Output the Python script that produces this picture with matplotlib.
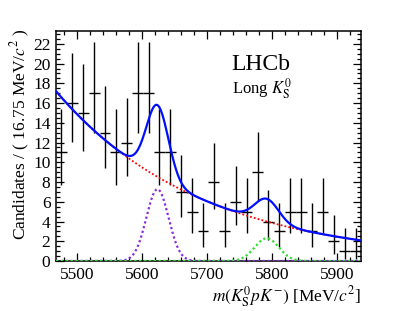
import numpy as np
import matplotlib
matplotlib.use("Agg")
import matplotlib.pyplot as plt
from math import factorial

# Binning and data
x_min = 5468.0
bin_width = 16.75
n_bins = 28
counts = [11, 16, 15, 17, 13, 11, 12, 17, 17, 11, 11, 7, 5, 3,
          8, 3, 6, 5, 9, 4, 3, 5, 5, 3, 5, 2, 1, 1]

# Fit components (estimated from the figure)
bkg_norm = 17.2        # background height at x_min
bkg_slope = -0.0045    # exponential slope per MeV
peak1_mean, peak1_sigma, peak1_height = 5624.0, 17.0, 7.27
peak2_mean, peak2_sigma, peak2_height = 5792.0, 18.5, 2.3


def poisson_cdf(n, mu):
    return sum(np.exp(-mu) * mu ** k / factorial(k) for k in range(n + 1))


def solve(f, lo, hi):
    for _ in range(80):
        mid = 0.5 * (lo + hi)
        if f(mid):
            lo = mid
        else:
            hi = mid
    return 0.5 * (lo + hi)


def poisson_interval(n, alpha=0.1587):
    up = solve(lambda mu: poisson_cdf(n, mu) > alpha, n, n + 10 * np.sqrt(n + 1) + 5)
    if n == 0:
        lo = 0.0
    else:
        lo = solve(lambda mu: poisson_cdf(n - 1, mu) > 1 - alpha, 0.0, n)
    return lo, up


def main():
    plt.rcParams["font.family"] = ["Liberation Serif", "DejaVu Serif"]
    plt.rcParams["mathtext.fontset"] = "stix"

    centers = x_min + bin_width * (np.arange(n_bins) + 0.5)
    y = np.array(counts, dtype=float)
    intervals = [poisson_interval(n) for n in counts]
    err_lo = y - np.array([a for a, b in intervals])
    err_hi = np.array([b for a, b in intervals]) - y

    x_max = x_min + bin_width * n_bins
    xs = np.linspace(x_min, x_max, 600)
    bkg = bkg_norm * np.exp(bkg_slope * (xs - x_min))
    sig1 = peak1_height * np.exp(-0.5 * ((xs - peak1_mean) / peak1_sigma) ** 2)
    sig2 = peak2_height * np.exp(-0.5 * ((xs - peak2_mean) / peak2_sigma) ** 2)
    total = bkg + sig1 + sig2

    fig = plt.figure(figsize=(4.01, 3.11), dpi=100)
    ax = fig.add_axes([0.1397, 0.1608, 0.7605, 0.7395])

    ax.errorbar(centers, y, xerr=bin_width / 2, yerr=[err_lo, err_hi],
                fmt="none", ecolor="black", elinewidth=1.0, capsize=0, zorder=2)

    dots = (0, (1, 1.2))
    ax.plot(xs, sig1, color="#8a2be2", lw=1.6, linestyle=dots, zorder=3)
    ax.plot(xs, sig2, color="#33dd33", lw=1.6, linestyle=dots, zorder=3)
    ax.plot(xs, bkg, color="red", lw=1.3, linestyle=dots, zorder=3)
    ax.plot(xs, total, color="#0010ff", lw=1.6, zorder=4)

    ax.set_xlim(x_min, x_max)
    ax.set_ylim(0, 23.3)
    ax.set_xticks([5500, 5600, 5700, 5800, 5900])
    ax.set_xticks(np.arange(5480, 5940, 20), minor=True)
    ax.set_yticks(np.arange(0, 23, 2))
    ax.set_yticks(np.arange(0, 23.3, 0.5), minor=True)
    ax.tick_params(which="both", direction="in", top=True, right=True,
                   labelsize=12.5, width=0.9)
    ax.tick_params(which="major", length=6, pad=4)
    ax.tick_params(which="minor", length=3)
    for s in ax.spines.values():
        s.set_linewidth(1.1)

    fig.text(20 / 401, 1 - 28 / 311, r"Candidates / ( 16.75 MeV/$c^2$ )",
             fontsize=12.5, rotation=90, ha="center", va="top")
    fig.text(361 / 401, 1 - 297 / 311, r"$m(K^0_{\rm S}pK^{-})$ [MeV/$c^2$]",
             fontsize=12.5, ha="right", va="center")

    ax.text(0.576, 0.83, "LHCb", transform=ax.transAxes, fontsize=17)
    ax.text(0.577, 0.73, r"Long $K^0_{\rm S}$", transform=ax.transAxes, fontsize=12)

    fig.savefig("out.png", dpi=100)
    plt.close(fig)


if __name__ == "__main__":
    main()
